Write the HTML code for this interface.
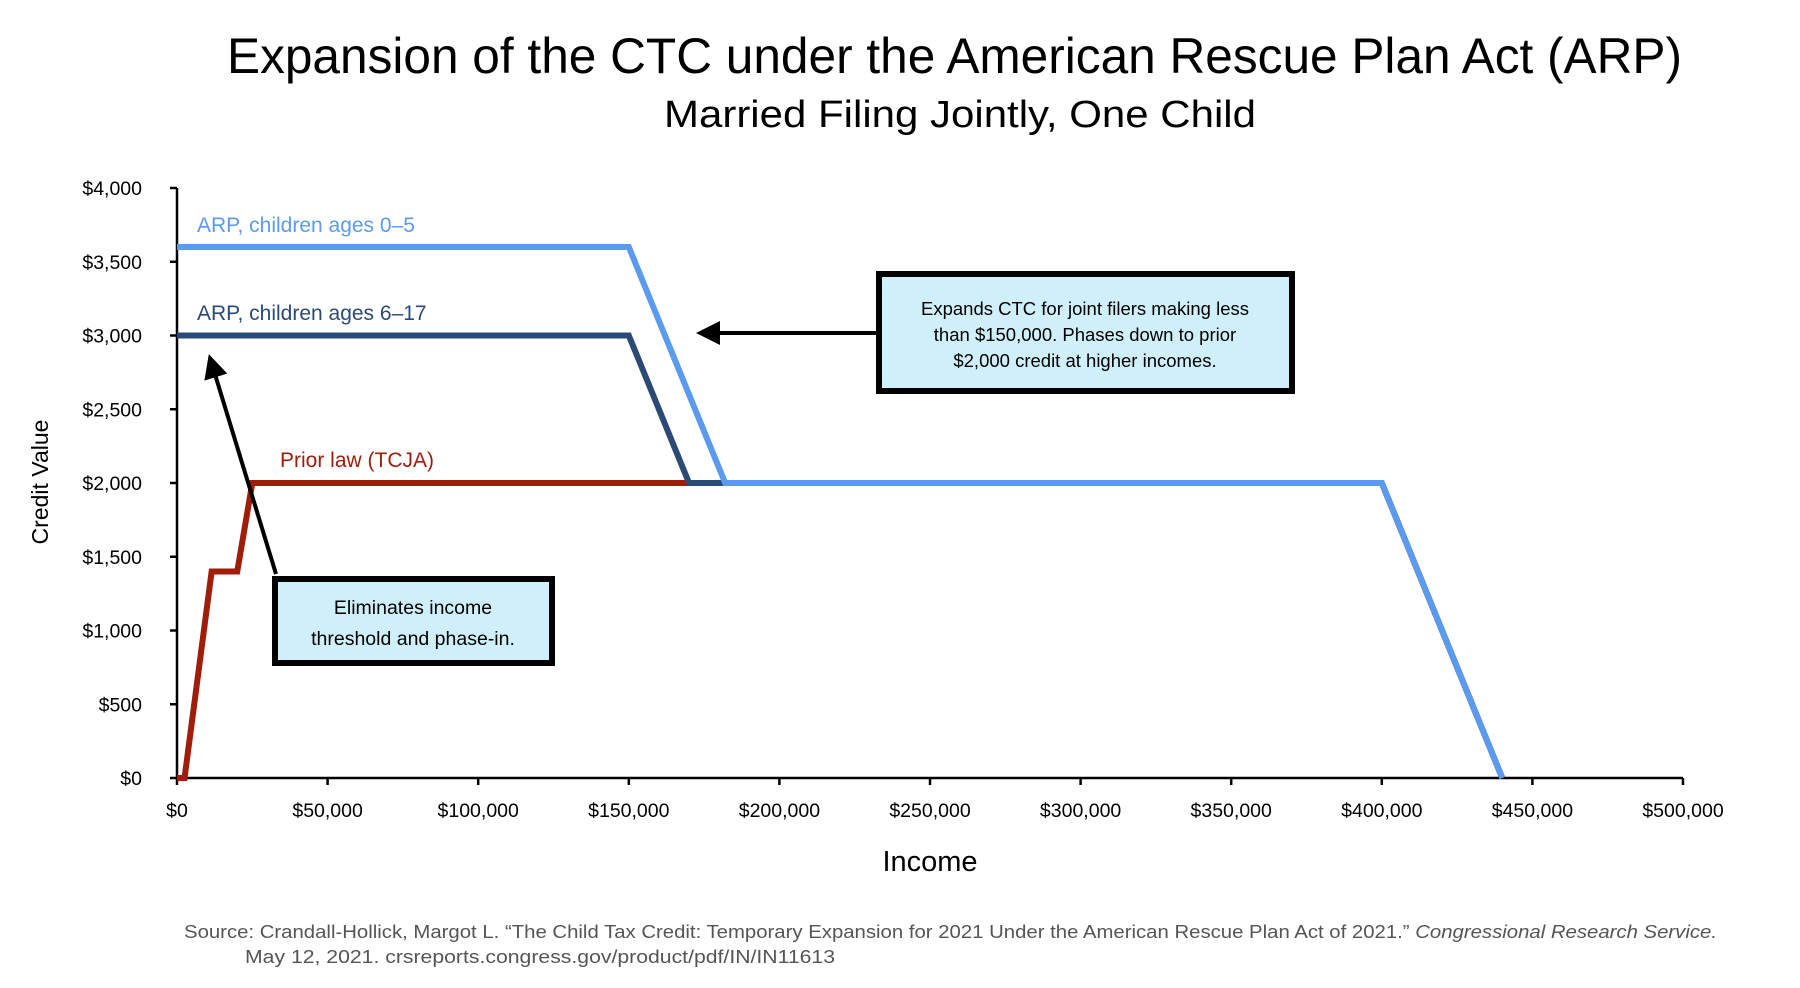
<!DOCTYPE html>
<html><head><meta charset="utf-8"><style>
html,body{margin:0;padding:0;background:#fff;}
svg{display:block;font-family:"Liberation Sans",sans-serif;}
</style></head><body>
<svg id="chart" width="1800" height="988" viewBox="0 0 1800 988">
<text x="227" y="73" font-size="50" textLength="1455" lengthAdjust="spacingAndGlyphs" fill="#000">Expansion of the CTC under the American Rescue Plan Act (ARP)</text>
<text x="664" y="127" font-size="38" textLength="592" lengthAdjust="spacingAndGlyphs" fill="#000">Married Filing Jointly, One Child</text>
<text transform="translate(48,482) rotate(-90)" text-anchor="middle" font-size="23" fill="#000">Credit Value</text>
<text x="930" y="871" text-anchor="middle" font-size="29" fill="#000">Income</text>
<g id="yticks"></g>
<g id="xticks"></g>
<g id="series"></g>
<text x="197" y="232" font-size="21" fill="#5b9bef">ARP, children ages 0–5</text>
<text x="197" y="320" font-size="21" fill="#2b4a75">ARP, children ages 6–17</text>
<text x="280" y="467" font-size="21" fill="#a01d0a">Prior law (TCJA)</text>
<defs><marker id="ah" markerWidth="6" markerHeight="6" refX="5" refY="3" orient="auto" markerUnits="strokeWidth"><path d="M0,0 L6,3 L0,6 z" fill="#000"/></marker></defs>
<line x1="876" y1="333" x2="700" y2="333" stroke="#000" stroke-width="4" marker-end="url(#ah)"/>
<line x1="276" y1="574" x2="210" y2="358" stroke="#000" stroke-width="4" marker-end="url(#ah)"/>
<g>
<rect x="879" y="274" width="413" height="117" fill="#cff0fa" stroke="#000" stroke-width="6"/>
<text x="1085" y="315" text-anchor="middle" font-size="18.5" fill="#000">Expands CTC for joint filers making less</text>
<text x="1085" y="341" text-anchor="middle" font-size="18.5" fill="#000">than $150,000. Phases down to prior</text>
<text x="1085" y="367" text-anchor="middle" font-size="18.5" fill="#000">$2,000 credit at higher incomes.</text>
</g>
<g>
<rect x="275" y="579" width="277" height="84" fill="#cff0fa" stroke="#000" stroke-width="6"/>
<text x="413" y="614" text-anchor="middle" font-size="19.5" fill="#000">Eliminates income</text>
<text x="413" y="645" text-anchor="middle" font-size="19.5" fill="#000">threshold and phase-in.</text>
</g>
<text x="184" y="938" font-size="18.5" fill="#555" textLength="1533" lengthAdjust="spacingAndGlyphs">Source: Crandall-Hollick, Margot L. “The Child Tax Credit: Temporary Expansion for 2021 Under the American Rescue Plan Act of 2021.” <tspan font-style="italic">Congressional Research Service.</tspan></text>
<text x="245" y="963" font-size="18.5" fill="#555" textLength="590" lengthAdjust="spacingAndGlyphs">May 12, 2021. crsreports.congress.gov/product/pdf/IN/IN11613</text>
</svg>
<script>
const xTicks = [0,50000,100000,150000,200000,250000,300000,350000,400000,450000,500000];
const xTickLabels = ["$0","$50,000","$100,000","$150,000","$200,000","$250,000","$300,000","$350,000","$400,000","$450,000","$500,000"];
const yTicks = [0,500,1000,1500,2000,2500,3000,3500,4000];
const yTickLabels = ["$0","$500","$1,000","$1,500","$2,000","$2,500","$3,000","$3,500","$4,000"];
const priorIncome = [0,2500,11500,20000,25000,400000,440000];
const priorValue = [0,0,1400,1400,2000,2000,0];
const arp617Income = [0,150000,170000,400000,440000];
const arp617Value = [3000,3000,2000,2000,0];
const arp05Income = [0,150000,182000,400000,440000];
const arp05Value = [3600,3600,2000,2000,0];

const NS = "http://www.w3.org/2000/svg";
const X0=177, X1=1683, Y0=778, Y1=188;
function sx(v){return X0+(v/500000)*(X1-X0);}
function sy(v){return Y0-(v/4000)*(Y0-Y1);}
function mk(tag, attrs, parent){const e=document.createElementNS(NS,tag);for(const k in attrs)e.setAttribute(k,attrs[k]);parent.appendChild(e);return e;}

const yg=document.getElementById('yticks');
const ya=mk('line',{x1:X0,y1:Y1,x2:X0,y2:Y0,stroke:'#000','stroke-width':2.5},yg);


yTicks.forEach((v,i)=>{
  const t=mk('line',{x1:X0-7,y1:sy(v),x2:X0,y2:sy(v),stroke:'#000','stroke-width':2.5},yg);
  
  
  const l=mk('text',{x:142,y:sy(v)+7,'text-anchor':'end','font-size':19.5,fill:'#000'},yg);
  l.textContent=yTickLabels[i];
  
  
});
const xg=document.getElementById('xticks');
const xa=mk('line',{x1:X0,y1:Y0,x2:X1,y2:Y0,stroke:'#000','stroke-width':2.5},xg);


xTicks.forEach((v,i)=>{
  const t=mk('line',{x1:sx(v),y1:Y0,x2:sx(v),y2:Y0+7,stroke:'#000','stroke-width':2.5},xg);
  
  
  const l=mk('text',{x:sx(v),y:817,'text-anchor':'middle','font-size':19.5,fill:'#000'},xg);
  l.textContent=xTickLabels[i];
  
  
});
const sg=document.getElementById('series');
function drawLine(xs,ys,color,name){
  const pts=xs.map((x,i)=>sx(x)+','+sy(ys[i])).join(' ');
  const p=mk('polyline',{points:pts,fill:'none',stroke:color,'stroke-width':6,'stroke-linejoin':'miter'},sg);
  
  
}
drawLine(priorIncome,priorValue,'#a01d0a','line-prior-law');
drawLine(arp617Income,arp617Value,'#2b4a75','line-arp-6-17');
drawLine(arp05Income,arp05Value,'#5b9bef','line-arp-0-5');
</script>
</body></html>
